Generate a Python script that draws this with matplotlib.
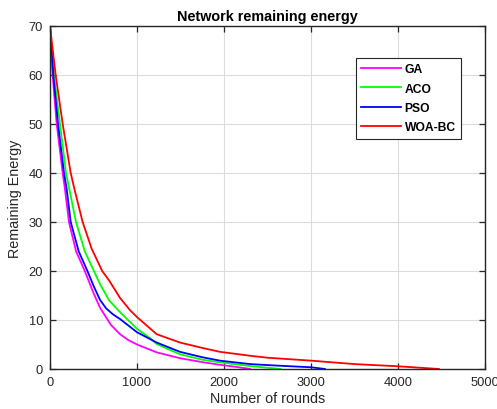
import matplotlib
matplotlib.use("Agg")
import matplotlib.pyplot as plt

plt.rcParams['font.family'] = ['Liberation Sans', 'DejaVu Sans']

# Data
ga_x = [0, 30, 77, 146, 172, 218, 300, 400, 500, 575, 700, 805, 900, 1000, 1226, 1494, 1750, 1954, 2150, 2300]
ga_y = [70, 60, 50, 40, 36.7, 30, 24, 20, 15.5, 12.5, 9.0, 7.1, 5.9, 5.0, 3.4, 2.2, 1.4, 0.85, 0.4, 0]

aco_x = [0, 45, 115, 184, 222, 299, 400, 505, 575, 680, 805, 1000, 1149, 1226, 1494, 1750, 1954, 2300, 2650]
aco_y = [70, 60, 50, 40, 36.7, 30, 24, 20, 17.3, 14.0, 11.6, 8.2, 6.3, 5.1, 3.0, 1.9, 1.36, 0.6, 0]

pso_x = [0, 38, 92, 161, 192, 238, 330, 430, 500, 575, 644, 720, 805, 1000, 1226, 1494, 1750, 1954, 2300, 2600, 3000, 3160]
pso_y = [70, 60, 50, 40, 36.7, 30, 24, 20, 17.0, 14.1, 12.4, 11.2, 10.2, 7.5, 5.4, 3.5, 2.4, 1.7, 1.0, 0.7, 0.35, 0]

woa_x = [0, 65, 146, 238, 281, 375, 480, 600, 682, 805, 920, 1000, 1226, 1494, 1750, 1954, 2300, 2500, 3000, 3500, 4000, 4470]
woa_y = [70, 60, 50, 40, 36.7, 30, 24.5, 20, 18.0, 14.5, 12.0, 10.6, 7.1, 5.4, 4.3, 3.5, 2.7, 2.3, 1.7, 1.0, 0.55, 0]

labels = ['GA', 'ACO', 'PSO', 'WOA-BC']
colors = ['#ff00ff', '#00ff00', '#0000ff', '#ff0000']

x_ticks = [0, 1000, 2000, 3000, 4000, 5000]
y_ticks = [0, 10, 20, 30, 40, 50, 60, 70]

fig = plt.figure(figsize=(4.97, 4.10), dpi=100)
ax = fig.add_axes([0.1006, 0.0976, 0.8752, 0.8366])

series = [(ga_x, ga_y), (aco_x, aco_y), (pso_x, pso_y), (woa_x, woa_y)]
for (xs, ys), lab, c in zip(series, labels, colors):
    ax.plot(xs, ys, color=c, linewidth=1.3, label=lab)

ax.set_xlim(0, 5000)
ax.set_ylim(0, 70)
ax.set_xticks(x_ticks)
ax.set_yticks(y_ticks)
ax.grid(True, color='#dcdcdc', linewidth=0.8)
ax.set_axisbelow(True)
ax.tick_params(direction='in', top=True, right=True, length=4, width=0.9,
               colors='#262626', labelsize=9.3, labelcolor='#262626', pad=5)
for s in ax.spines.values():
    s.set_color('#262626')
    s.set_linewidth(1.0)

ax.set_title('Network remaining energy', fontsize=10.4, fontweight='bold', color='black', pad=4)
ax.set_xlabel('Number of rounds', fontsize=10.4, color='#262626', labelpad=2)
ax.set_ylabel('Remaining Energy', fontsize=10.4, color='#262626', labelpad=5)

leg = ax.legend(loc='upper left', bbox_to_anchor=(0.703, 0.907), fancybox=False,
                edgecolor='#262626', framealpha=1, prop={'weight': 'bold', 'size': 8.7},
                handlelength=3.3, labelspacing=0.6, borderpad=0.45, handletextpad=0.3,
                borderaxespad=0)
leg.get_frame().set_linewidth(0.8)

fig.savefig('out.png', dpi=100)
